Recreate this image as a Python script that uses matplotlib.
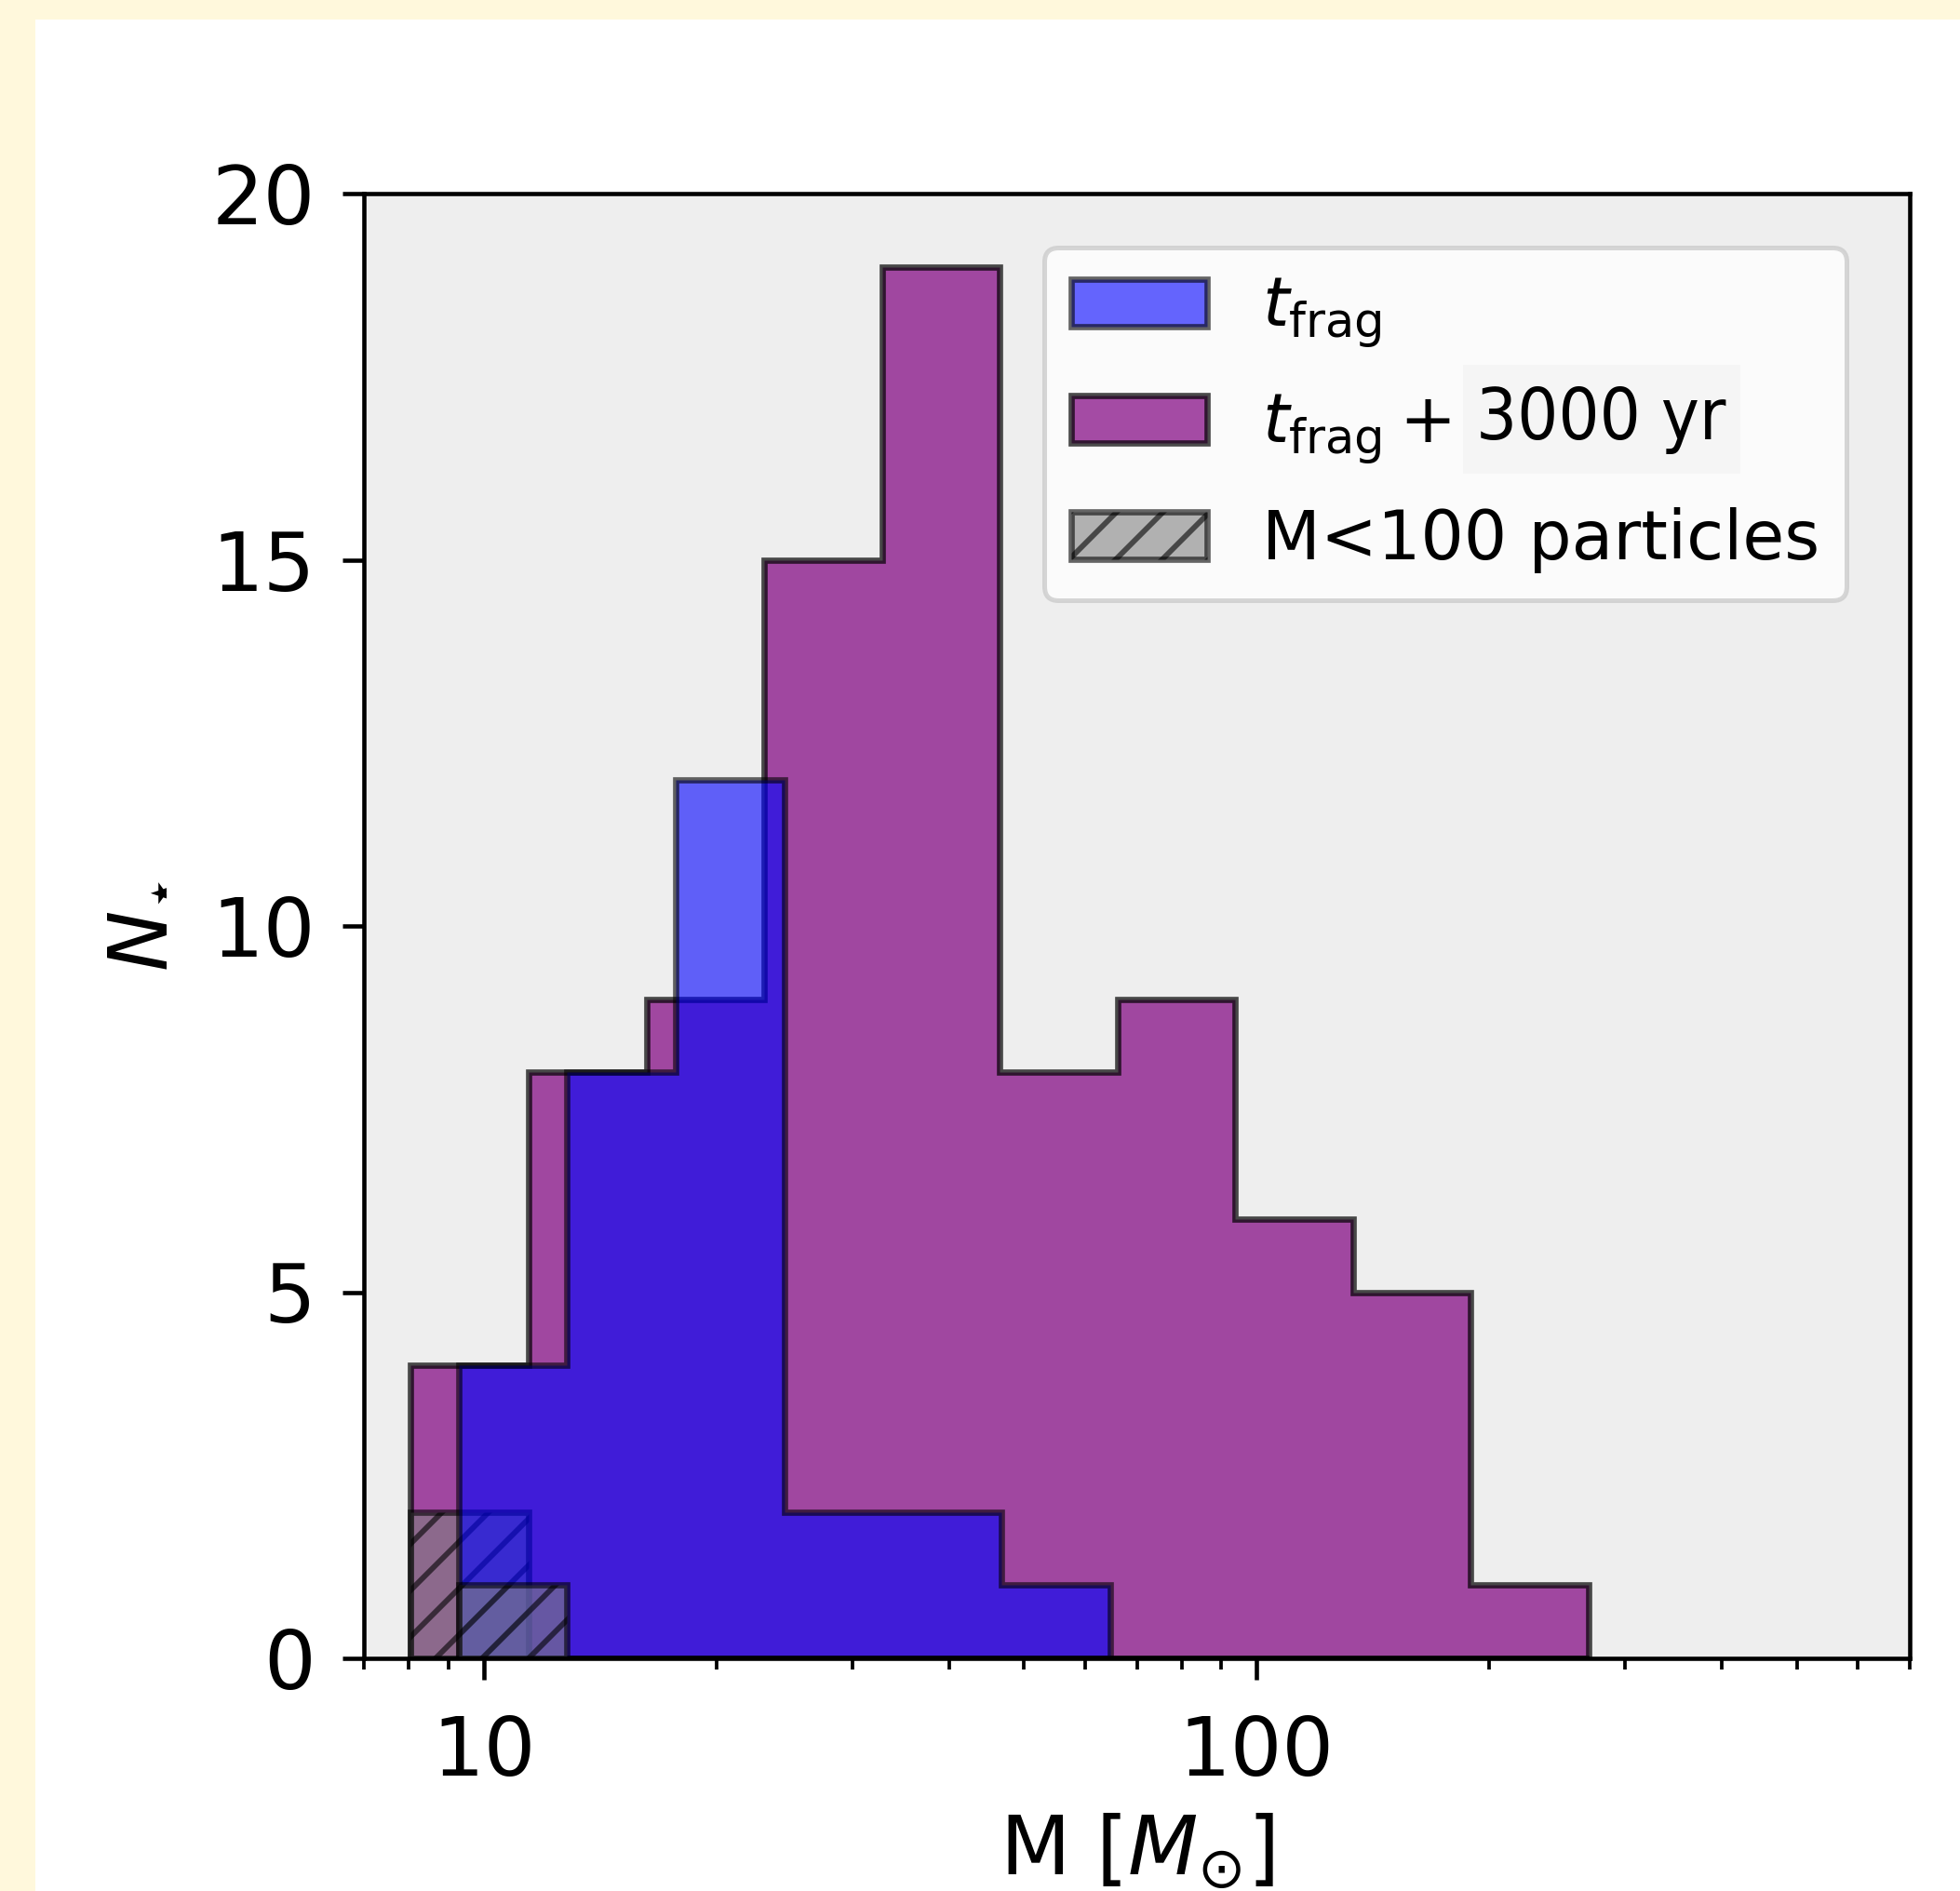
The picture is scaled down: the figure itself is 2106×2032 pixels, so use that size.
import matplotlib
matplotlib.use("Agg")
import matplotlib.pyplot as plt
import matplotlib.patches as mpatches
from matplotlib import font_manager
from matplotlib.ticker import ScalarFormatter, NullFormatter
import numpy as np

# ---------------------------------------------------------------------------
# Data (counts per log-spaced mass bin)
# ---------------------------------------------------------------------------
late_edges_lo, late_edges_hi = 8.05, 269.0      # t_frag + 3000 yr
late_counts = [4, 8, 9, 15, 19, 8, 9, 6, 5, 1]
late_lowres = [2, 0, 0, 0, 0, 0, 0, 0, 0, 0]    # M < 100 particles

frag_edges_lo, frag_edges_hi = 9.28, 64.6        # t_frag
frag_counts = [4, 8, 12, 2, 2, 1]
frag_lowres = [1, 0, 0, 0, 0, 0]

labels = [r"$t_{\rm frag}$", r"$t_{\rm frag} + $", "M<100 particles"]
overlay_label = "3000 yr"

plt.rcParams["hatch.linewidth"] = 1.4

W, H, DPI = 2106, 2032, 300
fig = plt.figure(figsize=(W / DPI, H / DPI), dpi=DPI, facecolor="#fff8dc")
fig.add_artist(mpatches.Rectangle((38 / W, 0), 1 - 38 / W, 1 - 21 / H,
                                  transform=fig.transFigure, facecolor="white",
                                  edgecolor="none", zorder=-10))

ax = fig.add_axes([391 / W, 1 - 1782 / H, 1661 / W, 1574 / H])
ax.set_facecolor("#eeeeee")


def log_bins(lo, hi, n):
    return np.geomspace(lo, hi, n + 1)


late_bins = log_bins(late_edges_lo, late_edges_hi, len(late_counts))
frag_bins = log_bins(frag_edges_lo, frag_edges_hi, len(frag_counts))
late_mid = np.sqrt(late_bins[:-1] * late_bins[1:])
frag_mid = np.sqrt(frag_bins[:-1] * frag_bins[1:])

LW = 1.6
hist_kw = dict(histtype="stepfilled", edgecolor="k", linewidth=LW)
_, _, p_late = ax.hist(late_mid, bins=late_bins, weights=late_counts,
                       color="purple", alpha=0.7, **hist_kw)
_, _, p_late_lr = ax.hist(late_mid, bins=late_bins, weights=late_lowres,
                          color="gray", alpha=0.6, hatch="//", **hist_kw)
_, _, p_frag = ax.hist(frag_mid, bins=frag_bins, weights=frag_counts,
                       color="blue", alpha=0.6, **hist_kw)
_, _, p_frag_lr = ax.hist(frag_mid, bins=frag_bins, weights=frag_lowres,
                          color="gray", alpha=0.6, hatch="//", **hist_kw)

ax.set_xscale("log")
ax.set_xlim(7, 700)
ax.set_ylim(0, 20)
ax.set_yticks([0, 5, 10, 15, 20])
ax.xaxis.set_major_formatter(ScalarFormatter())
ax.xaxis.set_minor_formatter(NullFormatter())

for s in ax.spines.values():
    s.set_linewidth(1.1)
ax.tick_params(which="major", length=5.5, width=1.1, labelsize=21)
ax.tick_params(which="minor", length=2.9, width=0.9)
ax.tick_params(axis="x", which="major", pad=9)
ax.tick_params(axis="y", which="major", pad=7)

ax.set_xlabel(r"M [$M_{\odot}$]", fontsize=21, labelpad=5)
ax.set_ylabel(r"$N_{\star}$", fontsize=21, labelpad=9)

leg = ax.legend([p_frag[0], p_late[0], p_late_lr[0]], labels,
                loc="upper right", bbox_to_anchor=(0.959, 0.963),
                borderaxespad=0, fontsize=17.5, framealpha=0.8,
                labelspacing=0.6)
leg.get_frame().set_linewidth(1.2)

# "3000 yr" sits in its own light box next to the second legend entry
ov_font = dict(family="DejaVu Sans", fontsize=18)
names = {(f.name, f.stretch) for f in font_manager.fontManager.ttflist}
if ("DejaVu Sans", "condensed") in names or ("DejaVu Sans", "semi-condensed") in names:
    ov_font = dict(family="DejaVu Sans", stretch="condensed", fontsize=18.5)

fig.canvas.draw()
bb = leg.get_texts()[1].get_window_extent(fig.canvas.get_renderer())
box_x0, box_w, box_y0, box_h = bb.x1 + 14, 298, H - 509, 117
fig.add_artist(mpatches.Rectangle((box_x0 / W, box_y0 / H), box_w / W, box_h / H,
                                  transform=fig.transFigure, facecolor="#f5f5f5",
                                  edgecolor="none", zorder=9))
fig.text((bb.x1 + 28) / W, (box_y0 + box_h / 2) / H, overlay_label,
         va="center", ha="left", zorder=10, **ov_font)

fig.savefig("out.png", dpi=DPI, facecolor=fig.get_facecolor())
